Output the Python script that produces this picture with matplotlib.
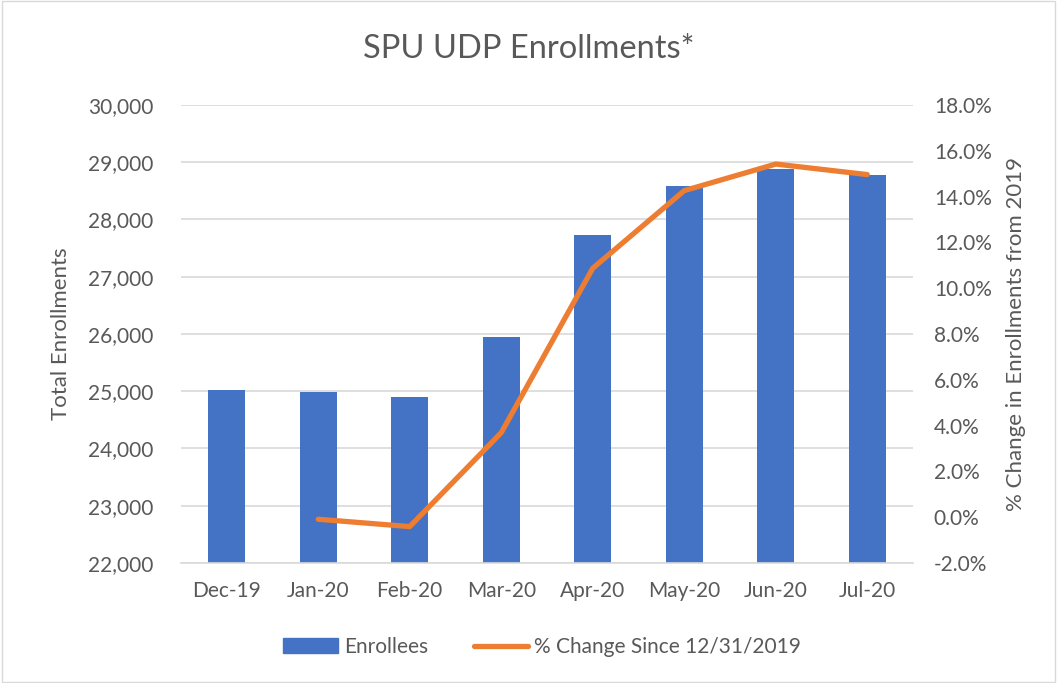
import matplotlib
matplotlib.use("Agg")
import matplotlib.pyplot as plt
import matplotlib.patches as mpatches
from matplotlib.lines import Line2D
from matplotlib.ticker import FuncFormatter

# data
months = ["Dec-19", "Jan-20", "Feb-20", "Mar-20", "Apr-20", "May-20", "Jun-20", "Jul-20"]
enrollees = [25030, 24990, 24900, 25940, 27730, 28590, 28880, 28770]
pct_months = ["Jan-20", "Feb-20", "Mar-20", "Apr-20", "May-20", "Jun-20", "Jul-20"]
pct_change = [-0.09, -0.41, 3.69, 10.87, 14.26, 15.42, 14.96]

BLUE = "#4472C4"
ORANGE = "#ED7D31"
GRID = "#D9D9D9"
TEXT = "#595959"

plt.rcParams["font.family"] = ["Lato", "DejaVu Sans"]

fig = plt.figure(figsize=(10.57, 6.83), dpi=100)
ax = fig.add_axes([0.1712, 0.1757, 0.6926, 0.6706])

x = list(range(len(months)))
ax.bar(x, enrollees, width=0.4, color=BLUE, zorder=2)
ax.set_ylim(22000, 30000)
ax.set_yticks(range(22000, 30001, 1000))
ax.yaxis.set_major_formatter(FuncFormatter(lambda v, p: f"{int(v):,}"))
ax.set_xlim(-0.5, len(months) - 0.5)
ax.set_xticks(x)
ax.set_xticklabels(months)
ax.grid(axis="y", color=GRID, linewidth=1.2, zorder=0)
ax.set_axisbelow(True)
for s in ["top", "left", "right"]:
    ax.spines[s].set_visible(False)
ax.spines["bottom"].set_color(GRID)
ax.spines["bottom"].set_linewidth(1.2)
ax.tick_params(axis="both", length=0, labelsize=15, colors=TEXT)
ax.tick_params(axis="y", pad=20)
ax.tick_params(axis="x", pad=13)
ax.set_ylabel("Total Enrollments", fontsize=16, color=TEXT, labelpad=12)

ax2 = ax.twinx()
px = [months.index(m) for m in pct_months]
ax2.plot(px, pct_change, color=ORANGE, linewidth=3.8, solid_capstyle="round",
         solid_joinstyle="round", zorder=3)
ax2.set_ylim(-2, 18)
ax2.set_yticks(range(-2, 19, 2))
ax2.yaxis.set_major_formatter(FuncFormatter(lambda v, p: f"{v:.1f}%"))
for s in ax2.spines.values():
    s.set_visible(False)
ax2.tick_params(axis="y", length=0, labelsize=15, colors=TEXT, pad=15)
ax2.set_ylabel("% Change in Enrollments from 2019", fontsize=16, color=TEXT, labelpad=10)

fig.suptitle("SPU UDP Enrollments*", x=0.5, y=0.95, fontsize=23.5, color=TEXT)

handles = [mpatches.Patch(color=BLUE, label="Enrollees"),
           Line2D([0], [0], color=ORANGE, linewidth=3.8, solid_capstyle="round",
                  label="% Change Since 12/31/2019")]
fig.legend(handles=handles, loc="center", bbox_to_anchor=(0.513, 0.053), ncol=2,
           frameon=False, fontsize=15, labelcolor=TEXT, handlelength=2.6,
           columnspacing=2.2, handletextpad=0.3)

fig.add_artist(mpatches.Rectangle((0.002, 0.002), 0.996, 0.996, transform=fig.transFigure,
                                  fill=False, edgecolor=GRID, linewidth=1))

fig.savefig("out.png", dpi=100)
